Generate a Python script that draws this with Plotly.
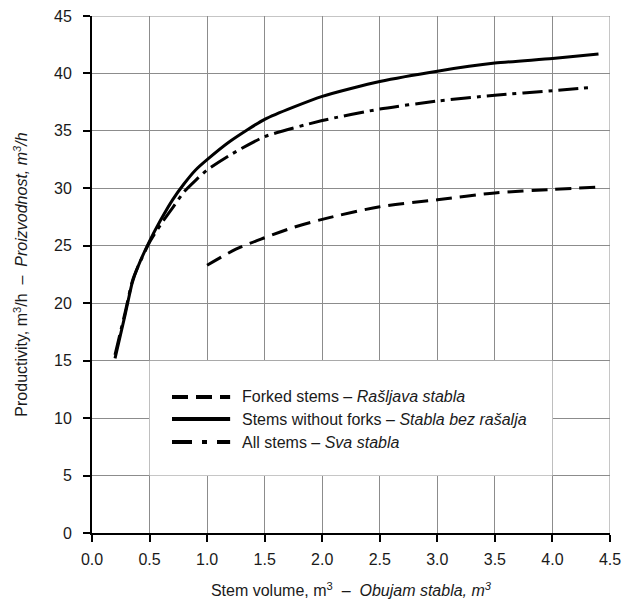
import plotly.graph_objects as go

# Data
x_forked = [1.0, 1.25, 1.5, 1.75, 2.0, 2.5, 3.0, 3.5, 4.0, 4.4]
y_forked = [23.3, 24.7, 25.7, 26.6, 27.3, 28.4, 29.0, 29.6, 29.9, 30.1]

x_noforks = [0.2, 0.29, 0.35, 0.4, 0.5, 0.6, 0.7, 0.8, 0.9, 1.0, 1.2, 1.5, 2.0, 2.5, 3.0, 3.5, 4.0, 4.4]
y_noforks = [15.2, 19.1, 21.8, 23.2, 25.4, 27.3, 29.0, 30.4, 31.6, 32.5, 34.1, 36.0, 38.0, 39.3, 40.2, 40.9, 41.3, 41.7]

x_all = [0.2, 0.29, 0.35, 0.4, 0.5, 0.6, 0.7, 0.8, 0.9, 1.0, 1.2, 1.5, 2.0, 2.5, 3.0, 3.5, 4.0, 4.35]
y_all = [15.5, 19.3, 21.9, 23.2, 25.3, 26.9, 28.3, 29.7, 30.7, 31.6, 32.9, 34.5, 35.9, 36.9, 37.6, 38.1, 38.5, 38.8]

legend_names = [
    "Forked stems – <i>Rašljava stabla</i>",
    "Stems without forks – <i>Stabla bez rašalja</i>",
    "All stems – <i>Sva stabla</i>",
]

x_ticks = [0.0, 0.5, 1.0, 1.5, 2.0, 2.5, 3.0, 3.5, 4.0, 4.5]
x_ticklabels = ["0.0", "0.5", "1.0", "1.5", "2.0", "2.5", "3.0", "3.5", "4.0", "4.5"]
y_ticks = [0, 5, 10, 15, 20, 25, 30, 35, 40, 45]

FONT = "Liberation Sans, Arial, sans-serif"
TXT = "#1a1a1a"
GRID = "#8c8c8c"
dash_forked = "16px,8px"
dash_all = "20px,6px,4px,6px"
LW = 3

fig = go.Figure()
fig.add_trace(go.Scatter(x=x_forked, y=y_forked, mode="lines", name=legend_names[0],
                         line=dict(color="black", width=LW, dash=dash_forked, shape="spline", smoothing=0.8),
                         showlegend=False))
fig.add_trace(go.Scatter(x=x_all, y=y_all, mode="lines", name=legend_names[2],
                         line=dict(color="black", width=LW, dash=dash_all, shape="spline", smoothing=0.6),
                         showlegend=False))
fig.add_trace(go.Scatter(x=x_noforks, y=y_noforks, mode="lines", name=legend_names[1],
                         line=dict(color="black", width=LW, shape="spline", smoothing=0.6),
                         showlegend=False))

# white box behind the legend covering grid lines
fig.add_shape(type="rect", x0=0.5, x1=4.0, y0=5, y1=15, xref="x", yref="y",
              fillcolor="white", line=dict(width=0), layer="between")

# manual legend
rows = [(11.84, dash_forked, legend_names[0]),
        (9.92, "solid", legend_names[1]),
        (7.92, "20px,10px,5px,10px", legend_names[2])]
for yy, dsh, txt in rows:
    fig.add_shape(type="line", x0=0.695, x1=1.2, y0=yy, y1=yy, xref="x", yref="y",
                  line=dict(color="black", width=LW + 1, dash=dsh))
    fig.add_annotation(x=1.286, y=yy, xref="x", yref="y", text=txt, showarrow=False,
                       xanchor="left", yanchor="middle",
                       font=dict(family=FONT, size=16, color=TXT))

# top and right border as grey grid-like lines
fig.add_shape(type="line", x0=0, x1=4.5, y0=45, y1=45, xref="x", yref="y",
              line=dict(color=GRID, width=1), layer="between")
fig.add_shape(type="line", x0=4.5, x1=4.5, y0=0, y1=45, xref="x", yref="y",
              line=dict(color=GRID, width=1), layer="between")

# page body has an 8px default margin, so the figure is sized to fit inside it
fig.update_layout(
    width=617, height=592,
    margin=dict(l=84, r=15, t=8, b=67),
    plot_bgcolor="white", paper_bgcolor="white",
    font=dict(family=FONT, size=16, color=TXT),
    showlegend=False,
)
fig.update_xaxes(
    range=[0, 4.5], tickvals=x_ticks, ticktext=x_ticklabels, automargin=False,
    showgrid=True, gridcolor=GRID, gridwidth=1,
    showline=True, linecolor="black", linewidth=2,
    ticks="outside", ticklen=7, tickwidth=2, tickcolor="black",
    ticklabelstandoff=4, ticklabeloverflow="allow",
    zeroline=False,
    title=dict(text="Stem volume, m<sup>3</sup>&nbsp; –&nbsp; <i>Obujam stabla, m<sup>3</sup></i>",
               standoff=18, font=dict(size=16)),
)
fig.update_yaxes(
    range=[0, 45], tickvals=y_ticks, automargin=False,
    showgrid=True, gridcolor=GRID, gridwidth=1,
    showline=True, linecolor="black", linewidth=2,
    ticks="outside", ticklen=7, tickwidth=2, tickcolor="black",
    ticklabelstandoff=8, ticklabeloverflow="allow",
    zeroline=False,
    title=dict(text="Productivity, m<sup>3</sup>/h&nbsp; –&nbsp; <i>Proizvodnost, m<sup>3</sup>/h</i>",
               standoff=22, font=dict(size=16)),
)

fig.write_html("out.html")
